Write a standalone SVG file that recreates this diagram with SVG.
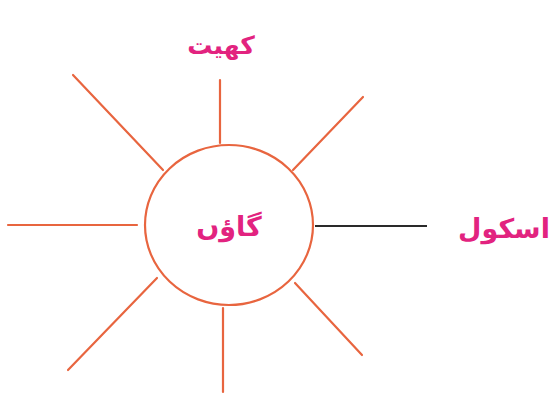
<svg xmlns="http://www.w3.org/2000/svg" width="556" height="394" viewBox="0 0 556 394">
<style>
.ray{stroke:#e8653f;stroke-width:2.2;fill:none;stroke-linecap:round}
.lbl{fill:#e2237f;font-family:"DejaVu Sans","Noto Sans",sans-serif;font-weight:bold;text-anchor:middle;direction:rtl}
</style>
<rect width="556" height="394" fill="#ffffff"/>
<g id="connectors">
<line class="ray" x1="220" y1="80" x2="220" y2="143"/>
<line class="ray" x1="8" y1="225" x2="137" y2="225"/>
<line class="ray" x1="223" y1="308" x2="223" y2="392"/>
<line class="ray" x1="73" y1="75" x2="163" y2="170"/>
<line class="ray" x1="363" y1="97" x2="293" y2="170"/>
<line class="ray" x1="157" y1="278" x2="68" y2="370"/>
<line class="ray" x1="295" y1="283" x2="362" y2="355"/>
<line x1="315" y1="226" x2="427" y2="226" stroke="#2a2a2a" stroke-width="2"/>
</g>
<g id="node-village">
<ellipse cx="229" cy="225" rx="84" ry="80" fill="#ffffff" stroke="#e8653f" stroke-width="2.2"/>
<text class="lbl" x="229" y="236" font-size="27">گاؤں</text>
</g>
<g id="node-field">
<text class="lbl" x="221" y="54" font-size="25">کھیت</text>
</g>
<g id="node-school">
<text class="lbl" x="504" y="238" font-size="27">اسکول</text>
</g>
</svg>
